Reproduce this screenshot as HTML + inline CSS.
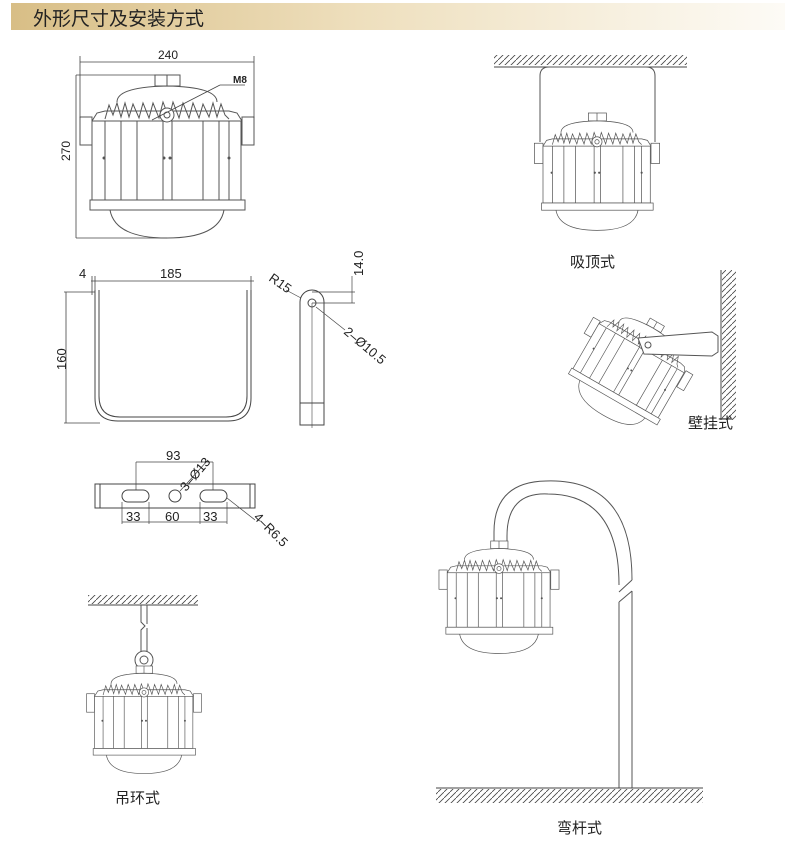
<!DOCTYPE html>
<html><head><meta charset="utf-8"><style>
html,body{margin:0;padding:0;background:#fff;}
svg{display:block;}
text{font-family:"Liberation Sans","Noto Sans CJK SC",sans-serif;fill:#222;}
</style></head><body>
<svg width="800" height="858" viewBox="0 0 800 858" xmlns="http://www.w3.org/2000/svg">
<defs>
<linearGradient id="hg" x1="0" x2="1" y1="0" y2="0">
<stop offset="0" stop-color="#d8be86"/><stop offset="0.45" stop-color="#eedfbd"/><stop offset="1" stop-color="#fdfbf6"/>
</linearGradient>
<pattern id="hatch" width="6" height="6" patternUnits="userSpaceOnUse">
<path d="M0 6 L6 0" stroke="#444" stroke-width="0.8"/>
</pattern>
<g id="lamp" fill="none" stroke="#555" stroke-width="1">
<rect x="-12" y="0" width="25" height="11" fill="#fff"/>
<line x1="0" y1="0" x2="0" y2="11"/>
<path d="M-50 27 Q-50 12 0 11 Q50 12 50 27" fill="#fff"/>
<path d="M-62 44 L-58 30 L-54 40 L-50 28 L-46 42 L-42 28 L-38 42 L-34 29 L-28 43 L-24 28 L-18 43 L-14 28 L-8 43 L-4 27 L2 43 L6 27 L12 43 L16 28 L22 43 L26 28 L32 43 L36 29 L42 42 L46 28 L50 42 L54 29 L58 40 L62 44"/>
<path d="M-75 46 L-70 38 L-62 36 L62 36 L70 38 L75 46"/>
<rect x="-87" y="42" width="12" height="28" fill="#fff"/>
<rect x="75" y="42" width="12" height="28" fill="#fff"/>
<rect x="-75" y="46" width="149" height="79" fill="#fff"/>
<line x1="-62" y1="46" x2="-62" y2="125"/><line x1="-46" y1="46" x2="-46" y2="125"/>
<line x1="-30" y1="46" x2="-30" y2="125"/><line x1="-4" y1="46" x2="-4" y2="125"/>
<line x1="5" y1="46" x2="5" y2="125"/><line x1="36" y1="46" x2="36" y2="125"/>
<line x1="52" y1="46" x2="52" y2="125"/><line x1="62" y1="46" x2="62" y2="125"/>
<circle cx="-63" cy="83" r="1" fill="#555"/><circle cx="-3" cy="83" r="1" fill="#555"/><circle cx="3" cy="83" r="1" fill="#555"/><circle cx="62" cy="83" r="1" fill="#555"/>
<circle cx="0" cy="40" r="7" fill="#fff"/><circle cx="0" cy="40" r="3"/>
<rect x="-77" y="125" width="155" height="10" fill="#fff"/>
<path d="M-57 135 Q-52 163 0 163 Q52 163 57 135"/>
</g>
</defs>
<rect x="11" y="3" width="774" height="27" fill="url(#hg)"/>
<text x="33" y="25" font-size="19" style="fill:#222">外形尺寸及安装方式</text>

<use href="#lamp" transform="translate(167,75)"/>
<g stroke="#444" stroke-width="0.8" fill="none">
<line x1="80" y1="62" x2="254" y2="62"/><line x1="80" y1="56" x2="80" y2="118"/><line x1="254" y1="56" x2="254" y2="118"/>
<line x1="76" y1="75" x2="155" y2="75"/><line x1="76" y1="238" x2="167" y2="238"/>
<line x1="76" y1="75" x2="76" y2="238"/>
<line x1="152" y1="120" x2="220" y2="85"/><line x1="220" y1="85" x2="245" y2="85"/>
</g>
<text x="158" y="59" font-size="12">240</text>
<text x="233" y="83" font-size="10" font-weight="bold">M8</text>
<text x="70" y="161" font-size="12" transform="rotate(-90 70 161)">270</text>

<g stroke="#444" stroke-width="1" fill="none">
<path d="M95 290 L95 398 Q95 421 118 421 L228 421 Q251 421 251 398 L251 290"/>
<path d="M99 290 L99 396 Q99 417 120 417 L226 417 Q247 417 247 396 L247 290"/>
<g stroke-width="0.8"><line x1="91" y1="281" x2="254" y2="281"/><line x1="92" y1="276" x2="92" y2="295"/><line x1="95" y1="276" x2="95" y2="295"/><line x1="251" y1="276" x2="251" y2="295"/>
<line x1="64" y1="292" x2="95" y2="292"/><line x1="64" y1="423" x2="100" y2="423"/><line x1="66" y1="292" x2="66" y2="423"/></g>
</g>
<text x="79" y="278" font-size="13">4</text>
<text x="160" y="278" font-size="13">185</text>
<text x="66" y="370" font-size="13" transform="rotate(-90 66 370)">160</text>
<g stroke="#444" stroke-width="1" fill="none">
<path d="M300 425 L300 302 A12 12 0 0 1 324 302 L324 425 Z"/>
<line x1="300" y1="403" x2="324" y2="403"/>
<circle cx="312" cy="303" r="4"/><line x1="312" y1="303" x2="312" y2="428" stroke-width="0.6"/>
<g stroke-width="0.7"><line x1="312" y1="292" x2="355" y2="292"/><line x1="312" y1="303" x2="355" y2="303"/><line x1="352" y1="276" x2="352" y2="303"/>
<line x1="286" y1="290" x2="301" y2="298"/><line x1="316" y1="307" x2="345" y2="330"/></g>
</g>
<text x="363" y="276" font-size="13" transform="rotate(-90 363 276)">14.0</text>
<text x="268" y="280" font-size="13" transform="rotate(35 268 280)">R15</text>
<text x="343" y="333" font-size="13" transform="rotate(40 343 333)">2–Ø10.5</text>
<g stroke="#444" stroke-width="1" fill="none">
<rect x="95" y="484" width="160" height="24"/>
<line x1="100" y1="484" x2="100" y2="508"/><line x1="250" y1="484" x2="250" y2="508"/>
<rect x="122" y="490" width="27" height="12" rx="6"/><rect x="200" y="490" width="27" height="12" rx="6"/>
<circle cx="175" cy="496" r="6"/>
<g stroke-width="0.7"><line x1="136" y1="462" x2="213" y2="462"/><line x1="136" y1="462" x2="136" y2="490"/><line x1="213" y1="462" x2="213" y2="490"/>
<line x1="122" y1="502" x2="122" y2="524"/><line x1="149" y1="502" x2="149" y2="524"/><line x1="200" y1="502" x2="200" y2="524"/><line x1="227" y1="502" x2="227" y2="524"/>
<line x1="122" y1="522" x2="227" y2="522"/><line x1="180" y1="491" x2="208" y2="460"/><line x1="227" y1="498" x2="255" y2="520"/></g>
</g>
<text x="166" y="460" font-size="13">93</text>
<text x="186" y="492" font-size="13" transform="rotate(-50 186 492)">3–Ø13</text>
<text x="126" y="521" font-size="13">33</text><text x="165" y="521" font-size="13">60</text><text x="203" y="521" font-size="13">33</text>
<text x="253" y="518" font-size="13" transform="rotate(45 253 518)">4–R6.5</text>

<rect x="494" y="55" width="193" height="10" fill="url(#hatch)"/><line x1="494" y1="67" x2="687" y2="67" stroke="#444"/>
<path d="M540 142 L540 76 Q540 67 549 67 L646 67 Q655 67 655 76 L655 142" fill="none" stroke="#555" stroke-width="1"/>
<use href="#lamp" transform="translate(597,113) scale(0.72)"/>
<text x="570" y="267" font-size="15">吸顶式</text>

<rect x="722" y="270" width="14" height="150" fill="url(#hatch)"/><line x1="721" y1="270" x2="721" y2="420" stroke="#444"/>
<use href="#lamp" transform="translate(657,322) rotate(30) scale(0.66)"/>
<path d="M638 338 L712 332 L718 336 L718 352 L712 356 L644 354 Z" fill="#fff" stroke="#555"/>
<circle cx="648" cy="345" r="3" fill="none" stroke="#555"/>
<text x="688" y="428" font-size="15">壁挂式</text>

<path d="M494 548 L494 532 Q494 482 546 481 Q632 478 632 580 M507 548 L507 536 Q507 492 548 494 Q619 494 619 585" fill="none" stroke="#555"/>
<line x1="632" y1="580" x2="619" y2="592" stroke="#555"/><line x1="632" y1="591" x2="619" y2="602" stroke="#555"/>
<line x1="619" y1="602" x2="619" y2="788" stroke="#555"/><line x1="632" y1="591" x2="632" y2="788" stroke="#555"/>
<use href="#lamp" transform="translate(499,541) scale(0.69)"/>
<line x1="436" y1="788" x2="703" y2="788" stroke="#444"/><rect x="436" y="789" width="267" height="14" fill="url(#hatch)"/>
<text x="557" y="833" font-size="15">弯杆式</text>

<rect x="88" y="595" width="110" height="9" fill="url(#hatch)"/><line x1="88" y1="605" x2="198" y2="605" stroke="#444"/>
<path d="M141 605 L141 622 L145 626 L141 630 L141 652 M147 605 L147 624 M147 628 L147 652" fill="none" stroke="#555"/>
<circle cx="144" cy="660" r="9" fill="#fff" stroke="#555"/><circle cx="144" cy="660" r="4" fill="none" stroke="#555"/>
<use href="#lamp" transform="translate(144,666) scale(0.66)"/>
<text x="115" y="803" font-size="15">吊环式</text>
</svg>
</body></html>
